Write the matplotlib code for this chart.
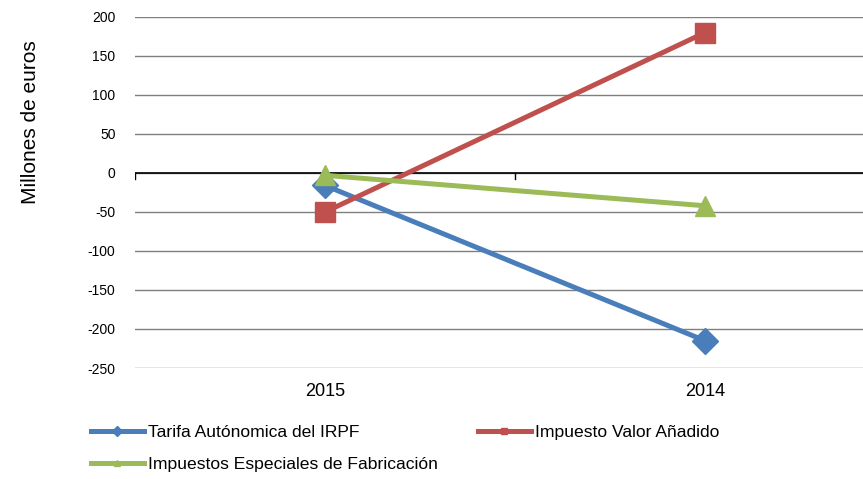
import matplotlib.pyplot as plt
from matplotlib.lines import Line2D

plt.rcParams['font.family'] = ['Liberation Sans', 'DejaVu Sans']
plt.rcParams['axes.unicode_minus'] = False

# data
years = ['2015', '2014']
tarifa_irpf = [-16, -215]
iva = [-50, 180]
especiales = [-3, -42]

series = [
    ('Tarifa Autónomica del IRPF', tarifa_irpf, '#4a7ebb', 'D', 13),
    ('Impuesto Valor Añadido', iva, '#c0504d', 's', 14),
    ('Impuestos Especiales de Fabricación', especiales, '#9bbb59', '^', 15),
]

fig = plt.figure(figsize=(8.63, 4.79), dpi=100)
# plot area runs past the right edge of the picture, as in the original
ax = fig.add_axes([135 / 863, 1 - 368 / 479, 760 / 863, (368 - 17) / 479])

x = range(len(years))
handles = []
for label, vals, color, marker, ms in series:
    ax.plot(x, vals, color=color, lw=3.6, marker=marker, markersize=ms,
            solid_capstyle='round', zorder=3)
    handles.append(Line2D([], [], color=color, lw=3.6, marker=marker,
                          markersize=5, label=label))

ax.set_xlim(-0.5, 1.5)
ax.set_ylim(-250, 200)
ax.set_yticks(range(-250, 201, 50))
ax.yaxis.grid(True, color='#7f7f7f', lw=1)
ax.set_axisbelow(True)
for s in ax.spines.values():
    s.set_visible(False)
ax.tick_params(axis='y', length=0, labelsize=10, pad=14)
ax.set_xticks(list(x))
ax.set_xticklabels(years)
ax.tick_params(axis='x', length=0, labelsize=13, pad=11)

# category axis drawn at zero, with tick marks between categories
ax.axhline(0, color='black', lw=1.2, zorder=2)
for xt in [-0.5, 0.5]:
    ax.plot([xt, xt], [0, -8], color='black', lw=1, zorder=2)

fig.text(30 / 863, 1 - 122 / 479, 'Millones de euros', rotation=90,
         ha='center', va='center', fontsize=15)

fig.legend(handles=[handles[0], handles[2], handles[1]],
           loc='upper left', bbox_to_anchor=(84 / 863, 1 - 418 / 479),
           ncol=2, frameon=False, fontsize=12.6, handlelength=3.0,
           handletextpad=0.25, columnspacing=2.3, labelspacing=0.95,
           borderaxespad=0)

fig.savefig('out.png', dpi=100)
